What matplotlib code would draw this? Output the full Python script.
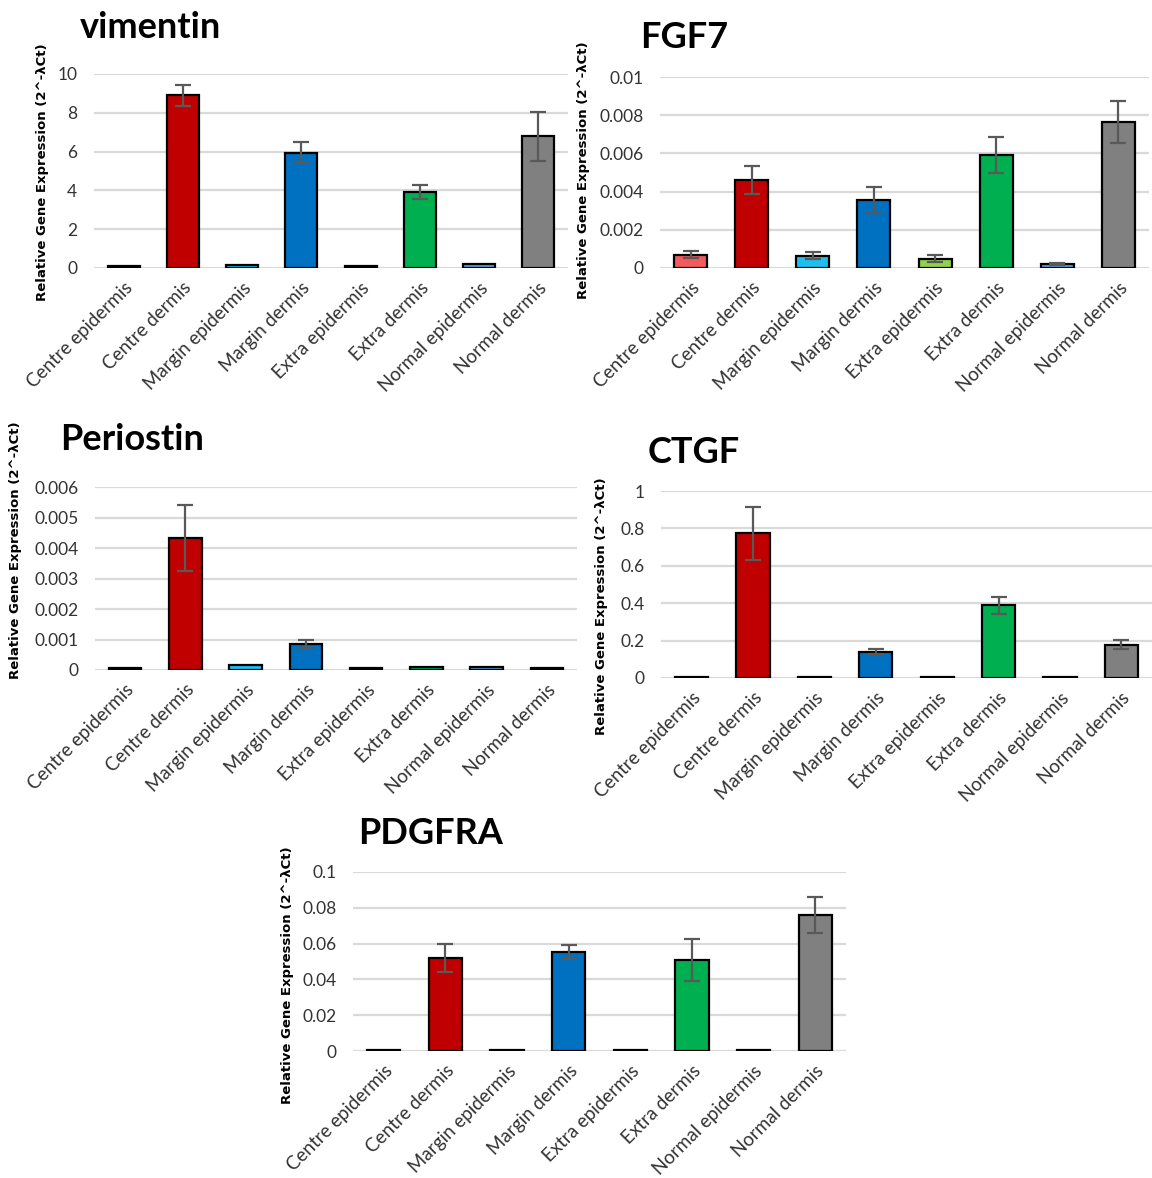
import numpy as np
import matplotlib.pyplot as plt

W, H = 1152, 1178

categories = ["Centre epidermis", "Centre dermis", "Margin epidermis", "Margin dermis",
              "Extra epidermis", "Extra dermis", "Normal epidermis", "Normal dermis"]

colors = ["#f25b5b", "#c00000", "#1fbef0", "#0070c0",
          "#92d050", "#00b050", "#5b9bd5", "#808080"]

vimentin = [0.12, 8.9, 0.17, 5.95, 0.12, 3.92, 0.22, 6.78]
vimentin_err = [0.0, 0.54, 0.0, 0.53, 0.0, 0.37, 0.0, 1.27]

fgf7 = [0.0007, 0.00462, 0.00065, 0.00358, 0.00049, 0.00592, 0.00021, 0.00763]
fgf7_err = [0.0002, 0.00073, 0.0002, 0.00068, 0.0002, 0.00096, 0.00003, 0.0011]

periostin = [0.00007, 0.00432, 0.00015, 0.00085, 0.00006, 0.00011, 0.00009, 0.00007]
periostin_err = [0.0, 0.00108, 0.0, 0.00014, 0.0, 0.0, 0.0, 0.0]

ctgf = [0.004, 0.773, 0.004, 0.141, 0.004, 0.389, 0.004, 0.179]
ctgf_err = [0.0, 0.14, 0.0, 0.015, 0.0, 0.045, 0.0, 0.022]

pdgfra = [0.0005, 0.0517, 0.0005, 0.0552, 0.0005, 0.0509, 0.0008, 0.076]
pdgfra_err = [0.0, 0.0078, 0.0, 0.004, 0.0, 0.0117, 0.0, 0.0101]

ylabel = "Relative Gene Expression (2^-λCt)"

# title, values, errors, yticks, axes box (x0, x1, ytop, ybottom) px, title pos, ylabel pos
panels = [
    ("vimentin", vimentin, vimentin_err, [0, 2, 4, 6, 8, 10],
     (94, 568, 74, 268), (80, 28), (43, 172)),
    ("FGF7", fgf7, fgf7_err, [0, 0.002, 0.004, 0.006, 0.008, 0.01],
     (660, 1149, 77, 268), (640, 38), (584, 170)),
    ("Periostin", periostin, periostin_err, [0, 0.001, 0.002, 0.003, 0.004, 0.005, 0.006],
     (95, 577, 487, 670), (60, 440), (16, 550)),
    ("CTGF", ctgf, ctgf_err, [0, 0.2, 0.4, 0.6, 0.8, 1],
     (661, 1152, 491, 678), (648, 452), (601, 606)),
    ("PDGFRA", pdgfra, pdgfra_err, [0, 0.02, 0.04, 0.06, 0.08, 0.1],
     (353, 846, 872, 1051), (358, 833), (288, 975)),
]

plt.rcParams['font.family'] = ['Lato', 'DejaVu Sans']

fig = plt.figure(figsize=(W / 100, H / 100), dpi=100)

for name, vals, errs, yt, box, tpos, ylpos in panels:
    x0, x1, yt_px, yb_px = box
    ax = fig.add_axes([x0 / W, 1 - yb_px / H, (x1 - x0) / W, (yb_px - yt_px) / H])
    x = np.arange(len(categories))
    ax.bar(x, vals, width=0.54, color=colors, edgecolor="black", linewidth=1.6, zorder=3)
    e = np.array(errs)
    mask = e > 0
    ax.errorbar(x[mask], np.array(vals)[mask], yerr=e[mask], fmt="none",
                ecolor="#595959", elinewidth=1.6, capsize=5.5, capthick=1.6, zorder=4)
    ax.set_xlim(-0.5, len(categories) - 0.5)
    ax.set_ylim(0, yt[-1])
    ax.set_yticks(yt)
    ax.set_yticklabels(["{:g}".format(v) for v in yt], fontsize=12.5, color="#333333")
    ax.set_xticks(x)
    ax.set_xticklabels(categories, rotation=45, ha="right", rotation_mode="anchor",
                       fontsize=13.5, color="#333333")
    ax.tick_params(axis="y", length=0, pad=12)
    ax.tick_params(axis="x", length=0, pad=8)
    ax.yaxis.grid(True, color="#d9d9d9", linewidth=1.6, zorder=0)
    ax.set_axisbelow(True)
    for s in ax.spines.values():
        s.set_visible(False)
    fig.text(tpos[0] / W, 1 - tpos[1] / H, name, fontsize=26, fontweight="bold",
             ha="left", va="center")
    fig.text(ylpos[0] / W, 1 - ylpos[1] / H, ylabel, rotation=90,
             fontsize=9.5, fontweight="bold", family="DejaVu Sans",
             ha="center", va="center")

fig.savefig("out.png", dpi=100)
